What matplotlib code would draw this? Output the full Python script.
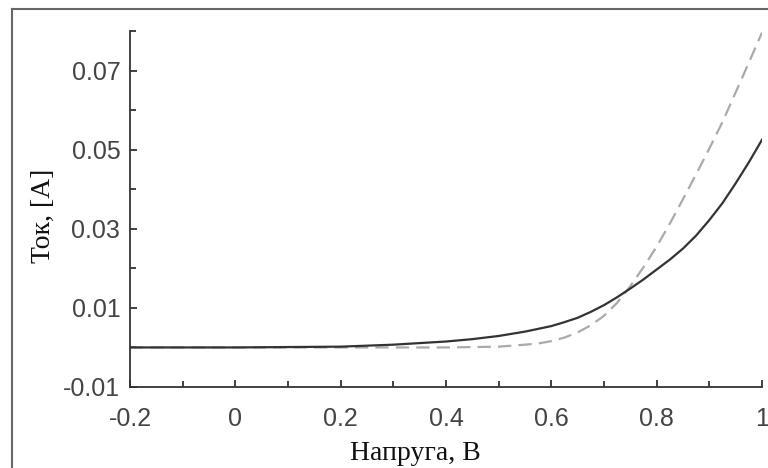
import matplotlib
matplotlib.use('Agg')
import matplotlib.pyplot as plt
from matplotlib.lines import Line2D
from matplotlib.ticker import MultipleLocator

# values
voltage = [-0.2, 0.0, 0.2, 0.3, 0.4, 0.45, 0.5, 0.55, 0.575, 0.6, 0.625, 0.65, 0.675, 0.7,
           0.725, 0.75, 0.775, 0.8, 0.825, 0.85, 0.875, 0.9, 0.925, 0.95, 0.975, 1.0]
current_meas = [0.0, 0.0, 0.0002, 0.0007, 0.0015, 0.0021, 0.0029, 0.004, 0.0047, 0.0054, 0.0064,
                0.0075, 0.009, 0.0107, 0.0127, 0.0149, 0.0172, 0.0197, 0.0222, 0.025, 0.0283,
                0.0322, 0.0365, 0.0415, 0.0468, 0.0525]
current_model = [0.0, 0.0, 0.0, 0.0, 0.0, 0.0001, 0.0002, 0.0007, 0.001, 0.0016, 0.0025,
                 0.0038, 0.0056, 0.008, 0.0113, 0.0155, 0.0203, 0.0255, 0.0313, 0.0375, 0.0438,
                 0.0503, 0.057, 0.0645, 0.072, 0.0796]
xticks = [-0.2, 0, 0.2, 0.4, 0.6, 0.8, 1]
xtick_labels = ['-0.2', '0', '0.2', '0.4', '0.6', '0.8', '1']
yticks = [-0.01, 0.01, 0.03, 0.05, 0.07]
ytick_labels = ['-0.01', '0.01', '0.03', '0.05', '0.07']

fig = plt.figure(figsize=(7.68, 4.68), dpi=100)
ax = fig.add_axes([130/768, 1 - 387/468, 632/768, 356/468])

ax.plot(voltage, current_model, color='#aaaaaa', lw=1.6, dashes=(6, 3.2))
ax.plot(voltage, current_meas, color='#333333', lw=1.6)

ax.set_xlim(-0.2, 1.0)
ax.set_ylim(-0.01, 0.08)
ax.set_xticks(xticks)
ax.set_xticklabels(xtick_labels)
ax.set_yticks(yticks)
ax.set_yticklabels(ytick_labels)
ax.xaxis.set_minor_locator(MultipleLocator(0.1))
ax.yaxis.set_minor_locator(MultipleLocator(0.02))

for s in ['top', 'right']:
    ax.spines[s].set_visible(False)
for s in ['left', 'bottom']:
    ax.spines[s].set_color('#333333')
    ax.spines[s].set_linewidth(1.3)

ax.tick_params(which='both', direction='in', color='#333333', width=1.3,
               labelsize=18, labelcolor='#444444', labelfontfamily='Liberation Sans')
ax.tick_params(which='major', length=5)
ax.tick_params(which='minor', length=4)
ax.tick_params(axis='x', which='major', pad=14.5)
ax.tick_params(axis='y', which='major', pad=7)
ax.tick_params(axis='x', which='minor', labelbottom=False)
ax.tick_params(axis='y', which='minor', labelleft=False)
ax.patch.set_visible(False)

ax.set_xlabel('Напруга, В', fontsize=20, family='Liberation Serif', color='#111111')
ax.set_ylabel('Ток, [A]', fontsize=20, family='Liberation Serif', color='#111111')
ax.xaxis.set_label_coords(0.451, -0.153)
ax.yaxis.set_label_coords(-0.118, 0.48)

# outer frame (left and top only visible)
fig.add_artist(Line2D([12/768, 12/768], [0, 1 - 9/468], transform=fig.transFigure,
                      color='#666666', lw=1.5))
fig.add_artist(Line2D([12/768, 1], [1 - 9/468, 1 - 9/468], transform=fig.transFigure,
                      color='#666666', lw=1.5))

fig.savefig('out.png', dpi=100)
